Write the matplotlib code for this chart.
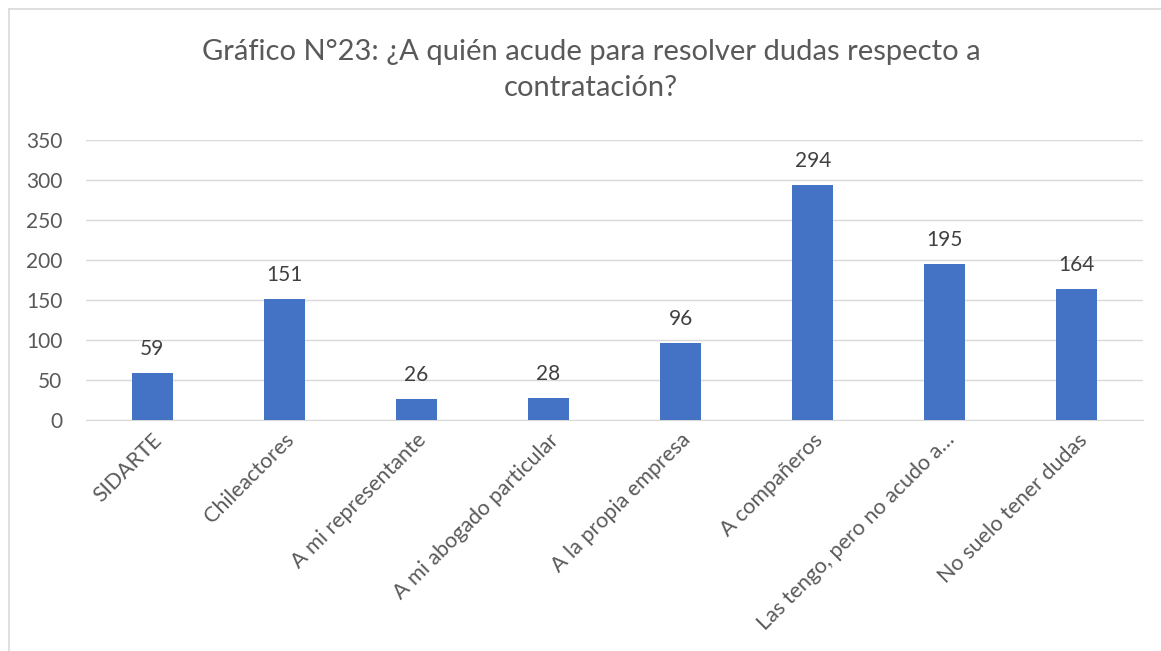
import matplotlib.pyplot as plt
from matplotlib.lines import Line2D

categories = ["SIDARTE", "Chileactores", "A mi representante",
              "A mi abogado particular", "A la propia empresa",
              "A compañeros", "Las tengo, pero no acudo a…",
              "No suelo tener dudas"]
values = [59, 151, 26, 28, 96, 294, 195, 164]
yticks = [0, 50, 100, 150, 200, 250, 300, 350]

plt.rcParams['font.family'] = ['Lato', 'DejaVu Sans']

fig = plt.figure(figsize=(11.61, 6.51), dpi=100)
ax = fig.add_axes([86 / 1161, 1 - 420 / 651, (1143 - 86) / 1161, 280 / 651])

x = range(len(categories))
bars = ax.bar(x, values, width=0.31, color="#4472C4", zorder=3)
for xi, v in zip(x, values):
    ax.annotate(str(v), (xi, v), xytext=(0, 10), textcoords="offset points",
                ha="center", va="bottom", fontsize=15, color="#404040")

ax.set_xlim(-0.5, len(categories) - 0.5)
ax.set_ylim(0, 350)
ax.set_yticks(yticks)
ax.grid(axis="y", color="#D9D9D9", linewidth=1, zorder=0)
for s in ["top", "right", "left"]:
    ax.spines[s].set_visible(False)
ax.spines["bottom"].set_color("#D9D9D9")
ax.set_xticks(list(x))
ax.set_xticklabels(categories, rotation=45, ha="right", rotation_mode="anchor")
ax.xaxis.set_tick_params(length=0, labelsize=15.5, labelcolor="#595959", pad=7)
ax.yaxis.set_tick_params(length=0, labelsize=15, labelcolor="#595959", pad=17)

fig.text(591 / 1161, 1 - 70 / 651,
         "Gráfico N°23: ¿A quién acude para resolver dudas respecto a\ncontratación?",
         ha="center", va="center", fontsize=21, color="#595959", linespacing=1.5)

# chart frame (top and left edges visible)
fig.add_artist(Line2D([9 / 1161, 1], [1 - 9 / 651, 1 - 9 / 651],
                      color="#D9D9D9", linewidth=1.2, transform=fig.transFigure))
fig.add_artist(Line2D([9 / 1161, 9 / 1161], [0, 1 - 9 / 651],
                      color="#D9D9D9", linewidth=1.2, transform=fig.transFigure))

fig.savefig("out.png", dpi=100)
plt.close(fig)
